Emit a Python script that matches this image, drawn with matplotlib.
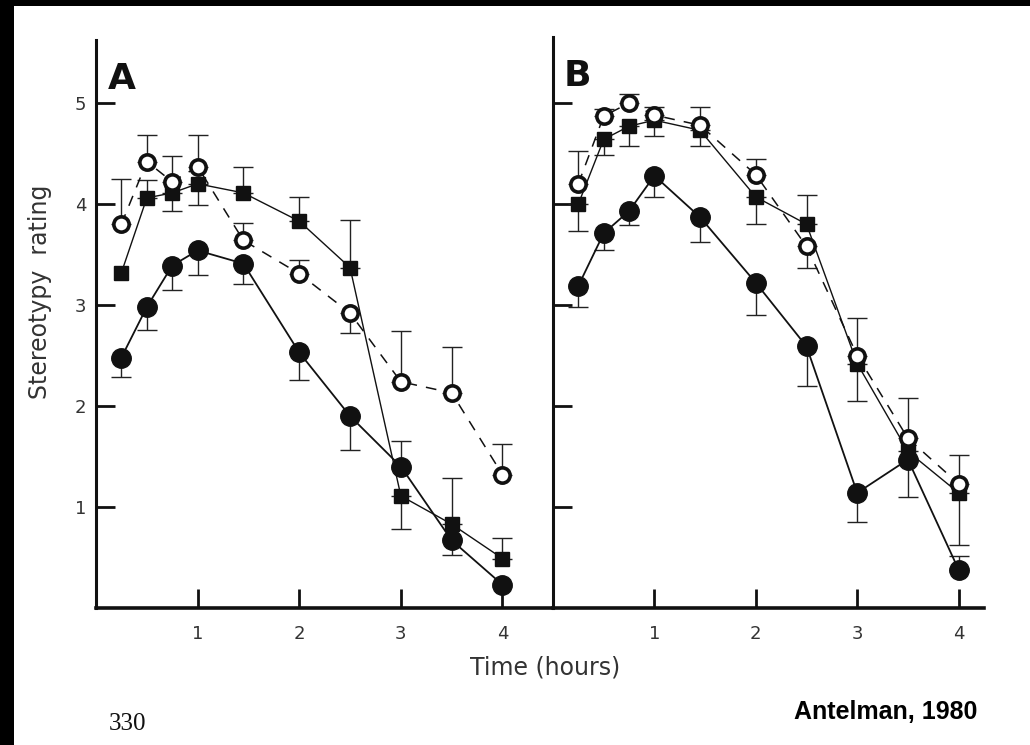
import numpy as np
import matplotlib
matplotlib.use("Agg")
import matplotlib.pyplot as plt
from matplotlib.patches import Rectangle

# Data (Antelman, 1980) #
hours = [0.25, 0.5, 0.75, 1.0, 1.45, 2.0, 2.5, 3.0, 3.5, 4.0]

# panel A
filled_a    = [2.48, 2.98, 3.39, 3.54, 3.41, 2.53, 1.90, 1.40, 0.67, 0.23]
filled_a_lo = [0.19, 0.23, 0.24, 0.24, 0.20, 0.27, 0.34, 0.00, 0.15, 0.00]
filled_a_hi = [0.00, 0.00, 0.00, 0.00, 0.00, 0.00, 0.00, 0.25, 0.00, 0.00]
square_a    = [3.32, 4.06, 4.11, 4.20, 4.11, 3.83, 3.37, 1.11, 0.83, 0.49]
square_a_lo = [0.00, 0.00, 0.18, 0.21, 0.00, 0.00, 0.00, 0.33, 0.00, 0.00]
square_a_hi = [0.00, 0.18, 0.00, 0.00, 0.26, 0.24, 0.47, 0.00, 0.46, 0.20]
open_a      = [3.80, 4.42, 4.22, 4.37, 3.64, 3.31, 2.92, 2.24, 2.13, 1.32]
open_a_lo   = [0.00, 0.00, 0.00, 0.00, 0.00, 0.00, 0.20, 0.00, 0.00, 0.00]
open_a_hi   = [0.45, 0.26, 0.26, 0.31, 0.17, 0.14, 0.00, 0.50, 0.45, 0.30]

# panel B
filled_b    = [3.19, 3.71, 3.93, 4.28, 3.87, 3.22, 2.59, 1.14, 1.47, 0.38]
filled_b_lo = [0.21, 0.17, 0.14, 0.21, 0.25, 0.32, 0.39, 0.29, 0.00, 0.00]
filled_b_hi = [0.00, 0.00, 0.00, 0.00, 0.00, 0.00, 0.00, 0.00, 0.00, 0.13]
square_b    = [4.00, 4.64, 4.77, 4.83, 4.73, 4.07, 3.80, 2.42, 1.55, 1.14]
square_b_lo = [0.27, 0.15, 0.20, 0.16, 0.16, 0.27, 0.00, 0.37, 0.45, 0.52]
square_b_hi = [0.00, 0.00, 0.00, 0.00, 0.00, 0.00, 0.29, 0.00, 0.00, 0.00]
open_b      = [4.20, 4.87, 5.00, 4.88, 4.78, 4.29, 3.58, 2.50, 1.68, 1.23]
open_b_lo   = [0.00, 0.00, 0.00, 0.00, 0.00, 0.00, 0.21, 0.00, 0.00, 0.00]
open_b_hi   = [0.32, 0.07, 0.09, 0.08, 0.18, 0.16, 0.00, 0.37, 0.40, 0.28]

y_ticks = [1, 2, 3, 4, 5]
x_ticks = [1, 2, 3, 4]

INK = "#111111"
GREY = "#333333"

W, H = 1030, 745
fig = plt.figure(figsize=(W / 100, H / 100), dpi=100)
fig.patch.set_facecolor("black")
# white page of the scan, behind the axes
fig.patches.append(Rectangle((14 / W, 0), 1 - 14 / W, 1 - 6 / H,
                             transform=fig.transFigure, facecolor="white",
                             edgecolor="none", zorder=-10))


def px_axes(left, top, right, bottom):
    return fig.add_axes([left / W, 1 - bottom / H, (right - left) / W, (bottom - top) / H])


def one_sided(ax, x, y, lo, hi):
    x, y, lo, hi = map(np.asarray, (x, y, lo, hi))
    zero = np.zeros_like(lo)
    for mask, err in ((lo > 0, [lo, zero]), (hi > 0, [zero, hi])):
        if mask.any():
            ax.errorbar(x[mask], y[mask], yerr=[err[0][mask], err[1][mask]], fmt="none",
                        ecolor="#222222", elinewidth=1.0, capsize=7, capthick=1.0, zorder=2)


def draw_panel(ax, filled, f_lo, f_hi, square, s_lo, s_hi, opn, o_lo, o_hi, xmax, ymax, letter, ylabels):
    ax.set_facecolor("white")
    one_sided(ax, hours, filled, f_lo, f_hi)
    one_sided(ax, hours, square, s_lo, s_hi)
    one_sided(ax, hours, opn, o_lo, o_hi)
    ax.plot(hours, filled, "-", color=INK, lw=1.3, marker="o", ms=14, mfc=INK, mec=INK, zorder=4)
    ax.plot(hours, square, "-", color=INK, lw=1.0, marker="s", ms=9.5, mfc=INK, mec=INK, zorder=4)
    ax.plot(hours, opn, color=INK, lw=1.1, ls=(0, (7, 6)), marker="o", ms=11,
            mfc="white", mec=INK, mew=2.6, zorder=5)
    ax.set_xlim(0, xmax)
    ax.set_ylim(0, ymax)
    for side in ("top", "right"):
        ax.spines[side].set_visible(False)
    ax.spines["left"].set_linewidth(2.2)
    ax.spines["bottom"].set_linewidth(2.6)
    ax.spines["left"].set_color(INK)
    ax.spines["bottom"].set_color(INK)
    ax.set_yticks(y_ticks)
    ax.set_xticks(x_ticks)
    ax.tick_params(direction="in", length=14, width=2.0, colors=INK, labelcolor=GREY)
    ax.tick_params(axis="x", pad=12, labelsize=13)
    ax.tick_params(axis="y", pad=7, labelsize=13)
    if not ylabels:
        ax.set_yticklabels([])
    ax.text(0.025, 0.962, letter, transform=ax.transAxes, fontsize=26, fontweight="bold",
            va="top", ha="left", color=INK)


ax_a = px_axes(96, 40, 551, 608)
ax_b = px_axes(553, 37, 984, 608)
draw_panel(ax_a, filled_a, filled_a_lo, filled_a_hi, square_a, square_a_lo, square_a_hi,
           open_a, open_a_lo, open_a_hi, (551 - 97) / 101.4, (608 - 40) / 101.0, "A", True)
draw_panel(ax_b, filled_b, filled_b_lo, filled_b_hi, square_b, square_b_lo, square_b_hi,
           open_b, open_b_lo, open_b_hi, (984 - 553) / 101.4, (608 - 37) / 101.0, "B", False)

# labels #
fig.text(40 / W, 1 - 292 / H, "Stereotypy  rating", rotation=90, ha="center", va="center",
         fontsize=17, color=GREY)
fig.text(545 / W, 1 - 667 / H, "Time (hours)", ha="center", va="center",
         fontsize=17, color=GREY)
fig.text(127 / W, 1 - 724 / H, "330", ha="center", va="center", fontsize=18,
         color=INK, family=["Liberation Serif", "DejaVu Serif"])
fig.text(886 / W, 1 - 712 / H, "Antelman, 1980", ha="center", va="center", fontsize=18,
         fontweight="bold", color="black", family=["Liberation Sans", "DejaVu Sans"])

fig.savefig("out.png", dpi=100, facecolor=fig.get_facecolor())
